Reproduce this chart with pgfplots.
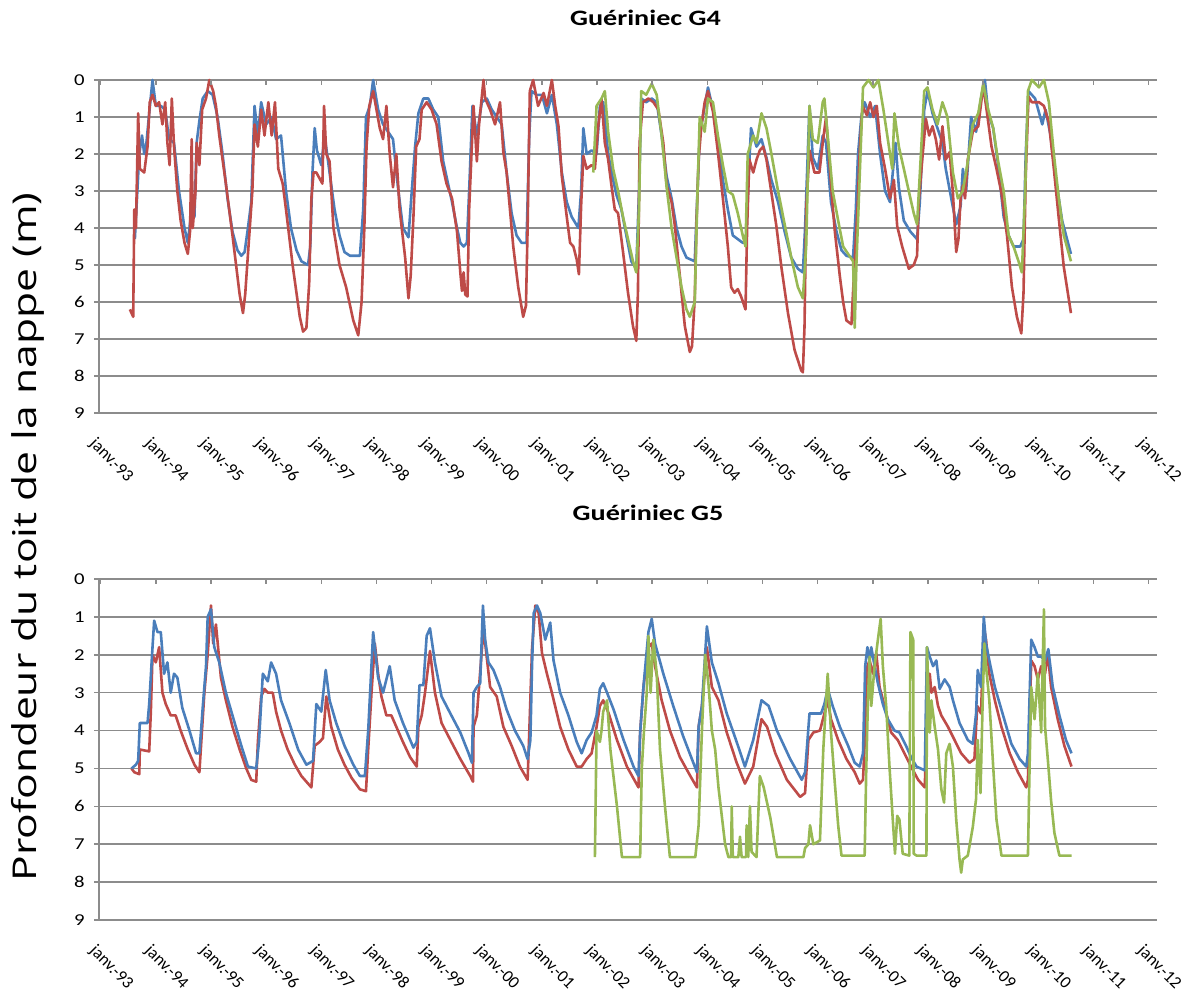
\documentclass[border=0pt]{standalone}
\usepackage{fontspec}
\usepackage{graphicx}
\usepackage{pgfplots}
\usepackage{pgfplotstable}
\pgfplotsset{compat=1.18}
\newfontfamily\tickfont[FakeStretch=1.25]{Carlito}
\newfontfamily\xtickfont{Carlito}
\newfontfamily\titlefont[FakeStretch=1.28]{Carlito}
\newfontfamily\ylabfont[FakeStretch=1.3]{Open Sans}
\definecolor{xlblue}{HTML}{4A7EBB}
\definecolor{xlred}{HTML}{BE4B48}
\definecolor{xlgreen}{HTML}{98B954}
\definecolor{gridgray}{HTML}{8C8C8C}
\newcommand{\rl}[1]{\rotatebox{-45}{#1}}

\pgfplotstableread{
x y
1993.53 6.2
1993.59 6.4
1993.61 3.5
1993.64 4.0
1993.68 0.9
1993.71 2.4
1993.79 2.5
1993.85 1.8
1993.89 0.6
1993.94 0.4
1994.00 0.7
1994.06 0.6
1994.12 1.2
1994.17 0.6
1994.21 1.7
1994.25 2.3
1994.29 0.5
1994.33 1.8
1994.39 3.0
1994.45 3.8
1994.52 4.4
1994.58 4.7
1994.62 4.1
1994.65 1.6
1994.67 4.0
1994.72 3.0
1994.74 1.7
1994.79 2.3
1994.84 0.8
1994.91 0.5
1994.97 0.0
1995.04 0.3
1995.09 0.7
1995.15 1.5
1995.27 2.8
1995.39 4.2
1995.52 5.8
1995.58 6.3
1995.62 5.8
1995.68 4.5
1995.75 3.0
1995.79 1.2
1995.85 1.8
1995.91 0.8
1995.97 1.5
1996.04 0.6
1996.10 1.5
1996.16 0.6
1996.22 2.4
1996.30 2.8
1996.36 3.5
1996.48 5.0
1996.61 6.4
1996.67 6.8
1996.73 6.7
1996.78 5.5
1996.82 3.2
1996.86 2.5
1996.91 2.5
1997.02 2.8
1997.05 0.7
1997.09 2.0
1997.15 2.2
1997.22 4.0
1997.33 5.0
1997.45 5.6
1997.58 6.5
1997.67 6.9
1997.73 6.0
1997.78 4.0
1997.82 1.8
1997.87 0.7
1997.94 0.3
1998.00 0.8
1998.06 1.3
1998.12 1.6
1998.18 0.7
1998.24 2.0
1998.30 2.9
1998.36 2.0
1998.42 3.5
1998.52 4.8
1998.58 5.9
1998.62 5.3
1998.67 3.7
1998.72 1.8
1998.78 1.6
1998.82 0.8
1998.91 0.6
1999.00 0.8
1999.09 1.2
1999.18 2.2
1999.27 2.8
1999.37 3.2
1999.46 4.1
1999.52 5.2
1999.55 5.7
1999.58 5.2
1999.61 5.8
1999.65 5.85
1999.68 3.5
1999.72 2.1
1999.76 0.7
1999.82 2.2
1999.86 1.2
1999.94 0.0
1999.97 0.5
2000.06 0.8
2000.15 1.2
2000.24 0.6
2000.30 1.95
2000.36 2.5
2000.42 3.5
2000.48 4.5
2000.57 5.6
2000.66 6.4
2000.71 6.1
2000.74 4.0
2000.78 0.3
2000.84 0.0
2000.93 0.7
2001.03 0.35
2001.09 0.7
2001.18 0.0
2001.24 0.7
2001.30 1.25
2001.36 2.6
2001.45 3.7
2001.51 4.4
2001.57 4.5
2001.63 4.85
2001.67 5.25
2001.71 3.4
2001.75 2.05
2001.81 2.4
2001.90 2.3
2001.96 2.4
2002.02 1.25
2002.08 0.5
2002.14 1.7
2002.20 2.15
2002.26 2.85
2002.32 3.5
2002.38 3.6
2002.47 4.65
2002.56 5.75
2002.65 6.65
2002.71 7.05
2002.74 5.75
2002.77 1.7
2002.83 0.6
2002.93 0.5
2003.02 0.6
2003.11 0.8
2003.20 1.7
2003.26 2.85
2003.35 3.3
2003.41 3.95
2003.50 5.3
2003.59 6.65
2003.68 7.35
2003.72 7.2
2003.77 5.9
2003.80 3.95
2003.84 2.15
2003.89 1.25
2003.95 0.6
2004.01 0.3
2004.10 0.85
2004.19 1.95
2004.28 3.2
2004.37 4.5
2004.43 5.6
2004.49 5.75
2004.55 5.65
2004.61 5.85
2004.69 6.2
2004.72 3.95
2004.76 2.15
2004.83 2.5
2004.89 2.15
2004.95 1.9
2005.01 1.8
2005.07 2.15
2005.16 3.05
2005.25 3.95
2005.34 5.05
2005.46 6.3
2005.58 7.3
2005.70 7.85
2005.73 7.9
2005.76 6.65
2005.79 3.5
2005.85 1.9
2005.94 2.5
2006.03 2.5
2006.09 1.7
2006.15 1.0
2006.21 2.2
2006.27 3.4
2006.31 4.1
2006.40 5.3
2006.46 6.0
2006.52 6.5
2006.61 6.6
2006.67 4.85
2006.72 3.5
2006.76 1.95
2006.81 0.7
2006.89 0.95
2006.95 0.6
2007.01 1.0
2007.07 0.7
2007.13 1.7
2007.22 2.4
2007.31 3.2
2007.38 2.7
2007.44 3.95
2007.53 4.5
2007.65 5.1
2007.74 5.0
2007.80 4.75
2007.83 3.3
2007.90 2.05
2007.96 1.05
2008.02 1.5
2008.08 1.25
2008.14 1.6
2008.20 2.15
2008.26 1.25
2008.32 2.15
2008.39 1.95
2008.45 3.05
2008.51 4.65
2008.55 4.3
2008.59 3.2
2008.63 2.85
2008.67 3.2
2008.72 2.15
2008.81 1.4
2008.91 1.25
2009.00 0.15
2009.06 0.8
2009.15 1.8
2009.24 2.4
2009.33 3.05
2009.43 4.2
2009.52 5.6
2009.61 6.4
2009.69 6.85
2009.73 5.75
2009.77 2.6
2009.82 0.45
2009.88 0.6
2010.01 0.6
2010.10 0.7
2010.19 1.15
2010.28 2.4
2010.37 3.75
2010.46 5.05
2010.59 6.3
}\topred

\pgfplotstableread{
x y
1993.62 4.3
1993.70 2.0
1993.75 1.5
1993.79 2.0
1993.83 1.7
1993.88 0.9
1993.94 0.0
1994.00 0.7
1994.09 0.7
1994.17 0.8
1994.24 1.6
1994.33 1.7
1994.42 3.0
1994.52 4.0
1994.58 4.4
1994.64 3.6
1994.70 3.7
1994.74 1.7
1994.79 1.1
1994.85 0.5
1994.94 0.3
1995.03 0.4
1995.12 1.0
1995.21 2.0
1995.30 3.2
1995.39 4.1
1995.48 4.6
1995.55 4.75
1995.61 4.65
1995.67 4.0
1995.73 3.3
1995.79 0.7
1995.85 1.5
1995.91 0.6
1996.00 1.2
1996.10 1.0
1996.18 1.6
1996.27 1.5
1996.36 3.0
1996.45 4.0
1996.55 4.6
1996.64 4.9
1996.76 5.0
1996.80 4.5
1996.84 2.5
1996.88 1.3
1996.92 1.9
1997.00 2.3
1997.06 1.5
1997.15 2.5
1997.24 3.5
1997.33 4.2
1997.42 4.65
1997.52 4.75
1997.70 4.75
1997.76 3.5
1997.81 1.0
1997.88 0.7
1997.94 0.0
1998.03 0.8
1998.12 1.2
1998.21 1.4
1998.30 1.6
1998.39 2.9
1998.48 4.0
1998.58 4.25
1998.64 3.0
1998.70 1.8
1998.76 0.9
1998.85 0.5
1998.94 0.5
1999.03 0.8
1999.12 1.0
1999.21 2.2
1999.37 3.3
1999.46 4.0
1999.52 4.4
1999.58 4.5
1999.64 4.4
1999.68 3.0
1999.74 0.7
1999.82 1.5
1999.91 0.6
2000.00 0.5
2000.09 0.8
2000.18 1.0
2000.27 1.2
2000.36 2.5
2000.45 3.6
2000.54 4.2
2000.63 4.4
2000.72 4.4
2000.77 1.5
2000.81 0.3
2000.90 0.4
2001.00 0.4
2001.09 0.9
2001.18 0.4
2001.27 1.2
2001.36 2.5
2001.45 3.3
2001.54 3.7
2001.66 4.0
2001.71 3.0
2001.75 1.3
2001.81 2.0
2001.90 1.9
2001.99 2.0
2002.05 0.7
2002.11 0.6
2002.20 2.0
2002.29 2.7
2002.35 3.1
2002.44 3.5
2002.53 4.2
2002.62 4.9
2002.71 5.1
2002.76 3.0
2002.80 0.5
2002.89 0.6
2002.99 0.5
2003.08 0.6
2003.17 1.5
2003.26 2.6
2003.35 3.2
2003.44 4.0
2003.53 4.5
2003.62 4.8
2003.77 4.9
2003.82 3.0
2003.86 1.5
2003.95 0.7
2004.01 0.2
2004.10 0.8
2004.19 1.6
2004.28 2.7
2004.37 3.5
2004.46 4.2
2004.55 4.3
2004.64 4.4
2004.70 4.4
2004.74 2.8
2004.79 1.3
2004.89 1.8
2004.98 1.6
2005.07 2.1
2005.16 2.7
2005.28 3.3
2005.40 4.1
2005.52 4.8
2005.64 5.1
2005.73 5.2
2005.77 4.0
2005.85 0.7
2005.91 2.1
2006.00 2.4
2006.09 1.5
2006.15 1.7
2006.24 3.3
2006.34 4.1
2006.43 4.6
2006.52 4.75
2006.64 4.8
2006.69 3.5
2006.73 2.0
2006.79 1.0
2006.85 0.6
2006.95 1.0
2007.04 0.7
2007.13 2.0
2007.22 3.0
2007.31 3.3
2007.41 1.7
2007.47 2.9
2007.56 3.8
2007.68 4.1
2007.80 4.3
2007.85 3.3
2007.93 0.8
2007.99 0.3
2008.08 0.9
2008.17 1.3
2008.26 1.7
2008.32 2.4
2008.42 3.2
2008.51 3.9
2008.59 3.4
2008.63 2.4
2008.69 3.0
2008.78 1.0
2008.87 1.4
2008.97 0.4
2009.03 0.0
2009.09 0.9
2009.18 1.3
2009.27 2.3
2009.37 3.7
2009.46 4.2
2009.55 4.5
2009.67 4.5
2009.73 4.3
2009.77 2.0
2009.82 0.3
2009.94 0.5
2010.07 1.2
2010.13 0.8
2010.22 1.5
2010.31 2.6
2010.43 3.8
2010.59 4.7
}\topblue

\pgfplotstableread{
x y
2001.93 2.5
2001.99 0.7
2002.08 0.5
2002.14 0.3
2002.20 1.4
2002.29 2.4
2002.38 3.0
2002.47 3.7
2002.56 4.3
2002.65 4.9
2002.71 5.2
2002.76 3.5
2002.80 0.3
2002.89 0.4
2002.99 0.1
2003.08 0.4
2003.17 1.5
2003.26 2.9
2003.35 4.0
2003.44 4.8
2003.53 5.6
2003.62 6.2
2003.68 6.4
2003.77 6.0
2003.82 3.0
2003.86 1.0
2003.95 1.4
2004.01 0.5
2004.10 0.6
2004.19 1.5
2004.28 2.3
2004.37 3.0
2004.46 3.1
2004.55 3.6
2004.64 4.2
2004.69 4.5
2004.73 2.0
2004.83 1.5
2004.89 1.7
2004.98 0.9
2005.07 1.3
2005.16 2.0
2005.28 3.0
2005.40 3.9
2005.52 4.8
2005.64 5.6
2005.73 5.9
2005.79 4.5
2005.85 0.7
2005.91 1.6
2006.00 1.7
2006.09 0.6
2006.12 0.5
2006.18 1.5
2006.27 3.0
2006.37 3.8
2006.46 4.5
2006.55 4.7
2006.64 4.9
2006.67 6.7
2006.70 5.0
2006.75 3.0
2006.82 0.2
2006.92 0.0
2007.01 0.2
2007.10 0.0
2007.19 0.8
2007.29 1.8
2007.35 2.4
2007.39 0.9
2007.47 1.8
2007.56 2.4
2007.65 3.0
2007.74 3.6
2007.80 3.9
2007.87 2.0
2007.93 0.3
2007.99 0.2
2008.08 0.8
2008.17 1.2
2008.26 0.6
2008.35 1.0
2008.45 2.5
2008.54 3.2
2008.63 3.0
2008.72 2.2
2008.81 1.2
2008.91 0.9
2009.00 0.1
2009.09 0.8
2009.18 1.3
2009.27 2.2
2009.37 3.0
2009.46 4.2
2009.55 4.5
2009.64 4.9
2009.70 5.2
2009.76 3.0
2009.81 0.3
2009.88 0.0
2010.01 0.2
2010.10 0.0
2010.19 0.6
2010.28 2.0
2010.37 3.2
2010.46 4.2
2010.59 4.9
}\topgreen

\pgfplotstableread{
x y
1993.56 5.0
1993.61 5.1
1993.70 5.15
1993.71 4.5
1993.88 4.55
1993.91 3.5
1993.94 2.0
1994.00 2.2
1994.06 1.8
1994.12 3.0
1994.18 3.3
1994.27 3.6
1994.36 3.6
1994.45 4.0
1994.58 4.5
1994.70 4.9
1994.79 5.1
1994.82 4.4
1994.88 3.0
1994.94 2.0
1995.00 0.7
1995.04 1.7
1995.09 1.2
1995.18 2.6
1995.27 3.2
1995.39 3.9
1995.52 4.5
1995.64 5.0
1995.73 5.3
1995.82 5.35
1995.85 4.3
1995.91 3.1
1995.97 2.9
1996.03 3.0
1996.12 3.0
1996.18 3.5
1996.27 4.0
1996.39 4.5
1996.52 4.9
1996.64 5.2
1996.82 5.5
1996.88 4.4
1996.97 4.3
1997.03 4.2
1997.09 3.1
1997.18 3.9
1997.30 4.5
1997.42 4.9
1997.55 5.25
1997.70 5.55
1997.81 5.6
1997.85 4.5
1997.91 3.0
1997.97 1.7
1998.03 2.5
1998.09 3.1
1998.18 3.6
1998.27 3.6
1998.36 3.9
1998.48 4.3
1998.61 4.7
1998.73 4.95
1998.76 3.9
1998.82 3.6
1998.88 3.0
1998.97 1.9
1999.06 3.0
1999.18 3.8
1999.34 4.25
1999.52 4.75
1999.70 5.2
1999.75 5.35
1999.76 3.9
1999.82 3.6
1999.94 1.3
2000.06 2.85
2000.18 3.1
2000.30 3.9
2000.45 4.4
2000.60 4.95
2000.74 5.3
2000.77 4.05
2000.82 1.85
2000.88 0.7
2000.94 0.9
2001.00 1.95
2001.09 2.5
2001.18 3.0
2001.33 3.9
2001.48 4.5
2001.63 4.95
2001.72 4.95
2001.81 4.75
2001.90 4.6
2001.99 3.9
2002.05 3.35
2002.11 3.2
2002.21 3.55
2002.36 4.25
2002.54 4.95
2002.75 5.5
2002.78 4.05
2002.84 2.85
2002.93 1.8
2002.99 1.7
2003.05 2.3
2003.17 3.2
2003.32 4.0
2003.50 4.7
2003.69 5.2
2003.81 5.5
2003.84 3.9
2003.90 3.35
2003.99 1.8
2004.08 2.85
2004.20 3.2
2004.35 4.05
2004.53 4.85
2004.68 5.4
2004.83 4.95
2004.98 3.7
2005.08 3.9
2005.23 4.6
2005.44 5.3
2005.68 5.75
2005.77 5.65
2005.83 4.25
2005.92 4.05
2006.04 4.0
2006.12 3.55
2006.18 3.2
2006.24 3.7
2006.37 4.25
2006.52 4.75
2006.67 5.1
2006.76 5.4
2006.82 5.3
2006.86 4.05
2006.90 2.3
2006.94 2.15
2007.00 2.5
2007.06 1.95
2007.12 2.85
2007.21 3.35
2007.33 4.05
2007.45 4.25
2007.57 4.6
2007.69 4.95
2007.82 5.3
2007.94 5.5
2007.98 3.55
2008.03 2.5
2008.06 3.0
2008.12 2.85
2008.18 3.35
2008.24 3.6
2008.36 3.9
2008.48 4.25
2008.60 4.6
2008.75 4.85
2008.84 4.75
2008.89 3.35
2008.96 3.55
2009.01 1.25
2009.05 1.6
2009.11 2.5
2009.21 3.2
2009.33 3.9
2009.48 4.6
2009.63 5.1
2009.78 5.5
2009.81 5.3
2009.87 2.15
2009.93 2.3
2009.99 2.65
2010.05 2.3
2010.12 2.5
2010.17 1.95
2010.23 2.85
2010.35 3.7
2010.47 4.4
2010.60 4.95
}\botred

\pgfplotstableread{
x y
1993.56 5.0
1993.64 4.9
1993.68 4.8
1993.71 3.8
1993.85 3.8
1993.88 3.3
1993.94 1.8
1993.97 1.1
1994.03 1.4
1994.09 1.4
1994.15 2.5
1994.21 2.2
1994.27 3.0
1994.33 2.5
1994.39 2.6
1994.48 3.4
1994.61 4.0
1994.73 4.6
1994.79 4.6
1994.85 3.4
1994.91 2.3
1994.94 1.0
1995.00 0.8
1995.06 1.8
1995.15 2.2
1995.27 3.0
1995.39 3.6
1995.55 4.4
1995.67 4.95
1995.82 5.0
1995.87 4.3
1995.94 2.5
1996.03 2.7
1996.09 2.2
1996.18 2.5
1996.27 3.2
1996.42 3.8
1996.58 4.5
1996.73 4.9
1996.85 4.8
1996.91 3.3
1997.00 3.5
1997.08 2.4
1997.15 3.2
1997.27 3.8
1997.42 4.4
1997.58 4.9
1997.70 5.2
1997.79 5.2
1997.85 4.0
1997.94 1.4
1998.03 2.6
1998.12 3.0
1998.24 2.3
1998.33 3.2
1998.48 3.8
1998.67 4.45
1998.73 4.3
1998.78 2.8
1998.85 2.8
1998.91 1.5
1998.97 1.3
1999.06 2.2
1999.18 3.1
1999.34 3.55
1999.52 4.05
1999.67 4.6
1999.73 4.85
1999.76 3.0
1999.82 2.85
1999.88 2.75
1999.93 0.7
1999.97 1.6
2000.03 2.2
2000.12 2.4
2000.24 2.85
2000.36 3.45
2000.51 4.0
2000.66 4.4
2000.74 4.75
2000.79 4.25
2000.82 2.3
2000.85 0.9
2000.91 0.7
2000.97 0.9
2001.06 1.6
2001.15 1.15
2001.21 2.15
2001.33 3.0
2001.48 3.6
2001.63 4.3
2001.72 4.6
2001.81 4.25
2001.90 4.05
2001.99 3.6
2002.05 2.9
2002.11 2.75
2002.18 3.0
2002.30 3.45
2002.48 4.25
2002.66 4.95
2002.75 5.2
2002.78 4.05
2002.84 2.85
2002.93 1.4
2002.99 1.05
2003.05 1.7
2003.20 2.5
2003.38 3.35
2003.56 4.15
2003.81 5.1
2003.84 3.9
2003.90 3.35
2003.99 1.25
2004.08 2.2
2004.20 2.75
2004.35 3.55
2004.53 4.3
2004.68 4.95
2004.83 4.25
2004.98 3.2
2005.11 3.35
2005.26 4.0
2005.50 4.75
2005.71 5.3
2005.77 5.1
2005.85 3.55
2005.98 3.55
2006.06 3.55
2006.12 3.3
2006.18 2.9
2006.27 3.35
2006.40 3.9
2006.55 4.4
2006.67 4.85
2006.76 4.95
2006.82 4.6
2006.86 2.3
2006.90 1.8
2006.94 2.15
2006.97 1.8
2007.03 2.3
2007.09 2.75
2007.18 3.3
2007.27 3.7
2007.39 4.0
2007.48 4.05
2007.60 4.4
2007.69 4.7
2007.79 4.95
2007.94 5.05
2007.98 1.8
2008.03 2.05
2008.09 2.3
2008.15 2.15
2008.21 2.9
2008.30 2.65
2008.39 2.85
2008.45 3.2
2008.57 3.8
2008.72 4.25
2008.81 4.35
2008.87 3.55
2008.90 2.4
2008.96 2.85
2009.01 1.0
2009.05 1.7
2009.11 2.15
2009.21 2.85
2009.36 3.6
2009.51 4.35
2009.66 4.75
2009.78 4.95
2009.81 4.6
2009.87 1.6
2009.93 1.8
2009.99 2.05
2010.05 2.05
2010.12 2.15
2010.18 1.85
2010.26 2.85
2010.38 3.6
2010.50 4.25
2010.60 4.6
}\botblue

\pgfplotstableread{
x y
2001.96 7.34
2001.99 4.0
2002.05 4.3
2002.08 4.0
2002.11 3.5
2002.18 3.2
2002.24 4.5
2002.36 6.0
2002.45 7.34
2002.78 7.34
2002.81 5.0
2002.85 4.0
2002.90 3.0
2002.93 1.5
2002.97 3.0
2003.02 1.6
2003.08 2.5
2003.14 4.5
2003.23 6.0
2003.32 7.34
2003.78 7.34
2003.84 6.5
2003.90 4.0
2003.96 2.0
2004.02 2.8
2004.08 4.0
2004.14 4.5
2004.20 5.5
2004.32 7.0
2004.38 7.34
2004.43 7.34
2004.44 6.0
2004.46 7.34
2004.56 7.34
2004.59 6.8
2004.62 7.34
2004.70 7.34
2004.71 6.5
2004.74 7.34
2004.77 6.0
2004.80 7.2
2004.89 7.34
2004.95 5.2
2005.02 5.5
2005.14 6.3
2005.26 7.34
2005.74 7.34
2005.77 7.1
2005.83 7.0
2005.86 6.5
2005.92 7.0
2006.04 6.9
2006.10 4.5
2006.18 2.5
2006.24 4.05
2006.31 5.4
2006.37 6.5
2006.43 7.3
2006.85 7.3
2006.88 4.95
2006.91 3.2
2006.94 2.05
2006.97 3.35
2007.03 2.3
2007.09 1.6
2007.14 1.05
2007.18 2.3
2007.24 3.35
2007.30 4.95
2007.36 6.35
2007.40 7.25
2007.44 6.25
2007.48 6.35
2007.54 7.25
2007.66 7.3
2007.68 1.4
2007.73 1.6
2007.74 7.25
2007.79 7.3
2007.97 7.3
2007.98 1.8
2008.03 4.05
2008.06 3.2
2008.12 3.9
2008.18 4.5
2008.24 5.55
2008.29 5.9
2008.33 4.6
2008.39 4.35
2008.45 4.95
2008.51 6.35
2008.57 7.4
2008.60 7.75
2008.63 7.4
2008.72 7.3
2008.81 6.55
2008.87 5.8
2008.90 4.25
2008.95 5.65
2008.99 3.2
2009.02 1.7
2009.05 2.3
2009.11 3.2
2009.18 4.95
2009.24 6.35
2009.33 7.3
2009.81 7.3
2009.84 4.95
2009.87 2.85
2009.93 3.7
2009.99 2.5
2010.05 4.05
2010.10 0.8
2010.12 3.9
2010.17 4.75
2010.23 5.85
2010.29 6.7
2010.38 7.3
2010.60 7.3
}\botgreen

\pgfplotsset{
  common/.style={
    scale only axis, width=529pt,
    xmin=1992.97, xmax=2012.15, ymin=0, ymax=9, y dir=reverse,
    xtick={1993,...,2012},
    tick align=inside, major tick length=2.5pt,
    clip=false,
  },
  panel/.style={
    common,
    ytick={0,...,9},
    xticklabels={\rl{janv.-93},\rl{janv.-94},\rl{janv.-95},\rl{janv.-96},\rl{janv.-97},\rl{janv.-98},\rl{janv.-99},\rl{janv.-00},\rl{janv.-01},\rl{janv.-02},\rl{janv.-03},\rl{janv.-04},\rl{janv.-05},\rl{janv.-06},\rl{janv.-07},\rl{janv.-08},\rl{janv.-09},\rl{janv.-10},\rl{janv.-11},\rl{janv.-12}},
    separate axis lines,
    axis y line*=left,
    x axis line style={draw=none},
    y axis line style={gridgray, line width=0.75pt},
    ymajorgrids, grid style={gridgray, line width=0.75pt},
    xtick pos=left,
    xtick style={draw=none},
    ytick style={gridgray, line width=0.75pt, xshift=-2.5pt},
    /pgf/number format/assume math mode=true,
    yticklabel style={font=\tickfont\fontsize{8.3}{10}\selectfont, inner sep=0pt, xshift=-7pt},
    xticklabel style={font=\xtickfont\fontsize{8.6}{10}\selectfont, inner sep=0pt, anchor=north west, xshift=-7pt, yshift=-11.5pt},
    title style={font=\titlefont\bfseries\fontsize{11}{13}\selectfont, anchor=center},
    every axis plot/.append style={line width=1.3pt, line join=round, no marks},
  },
  topticks/.style={
    common,
    xticklabels={},
    xtick pos=right,
    xtick style={gridgray, line width=0.75pt},
    hide y axis,
    axis line style={draw=none},
  }
}

\begin{document}
\begin{tikzpicture}
\useasboundingbox (0,0) rectangle (596pt,499pt);
\begin{axis}[panel, height=166.5pt, at={(49.5pt,292.5pt)}, anchor=south west,
  title={Guériniec G4}, title style={at={(0.5165,1)}, yshift=25pt}]
  \addplot[xlblue] table {\topblue};
  \addplot[xlred] table {\topred};
  \addplot[xlgreen] table {\topgreen};
\end{axis}
\begin{axis}[topticks, height=166.5pt, at={(49.5pt,292.5pt)}, anchor=south west]
\end{axis}
\begin{axis}[panel, height=170.5pt, at={(49.5pt,39pt)}, anchor=south west,
  title={Guériniec G5}, title style={at={(0.519,1)}, yshift=27pt}]
  \addplot[xlred] table {\botred};
  \addplot[xlblue] table {\botblue};
  \addplot[xlgreen] table {\botgreen};
\end{axis}
\begin{axis}[topticks, height=170.5pt, at={(49.5pt,39pt)}, anchor=south west]
\end{axis}
\node[rotate=90, font=\ylabfont\fontsize{16.4}{18}\selectfont] at (14pt,230.5pt) {Profondeur du toit de la nappe (m)};
\end{tikzpicture}
\end{document}
